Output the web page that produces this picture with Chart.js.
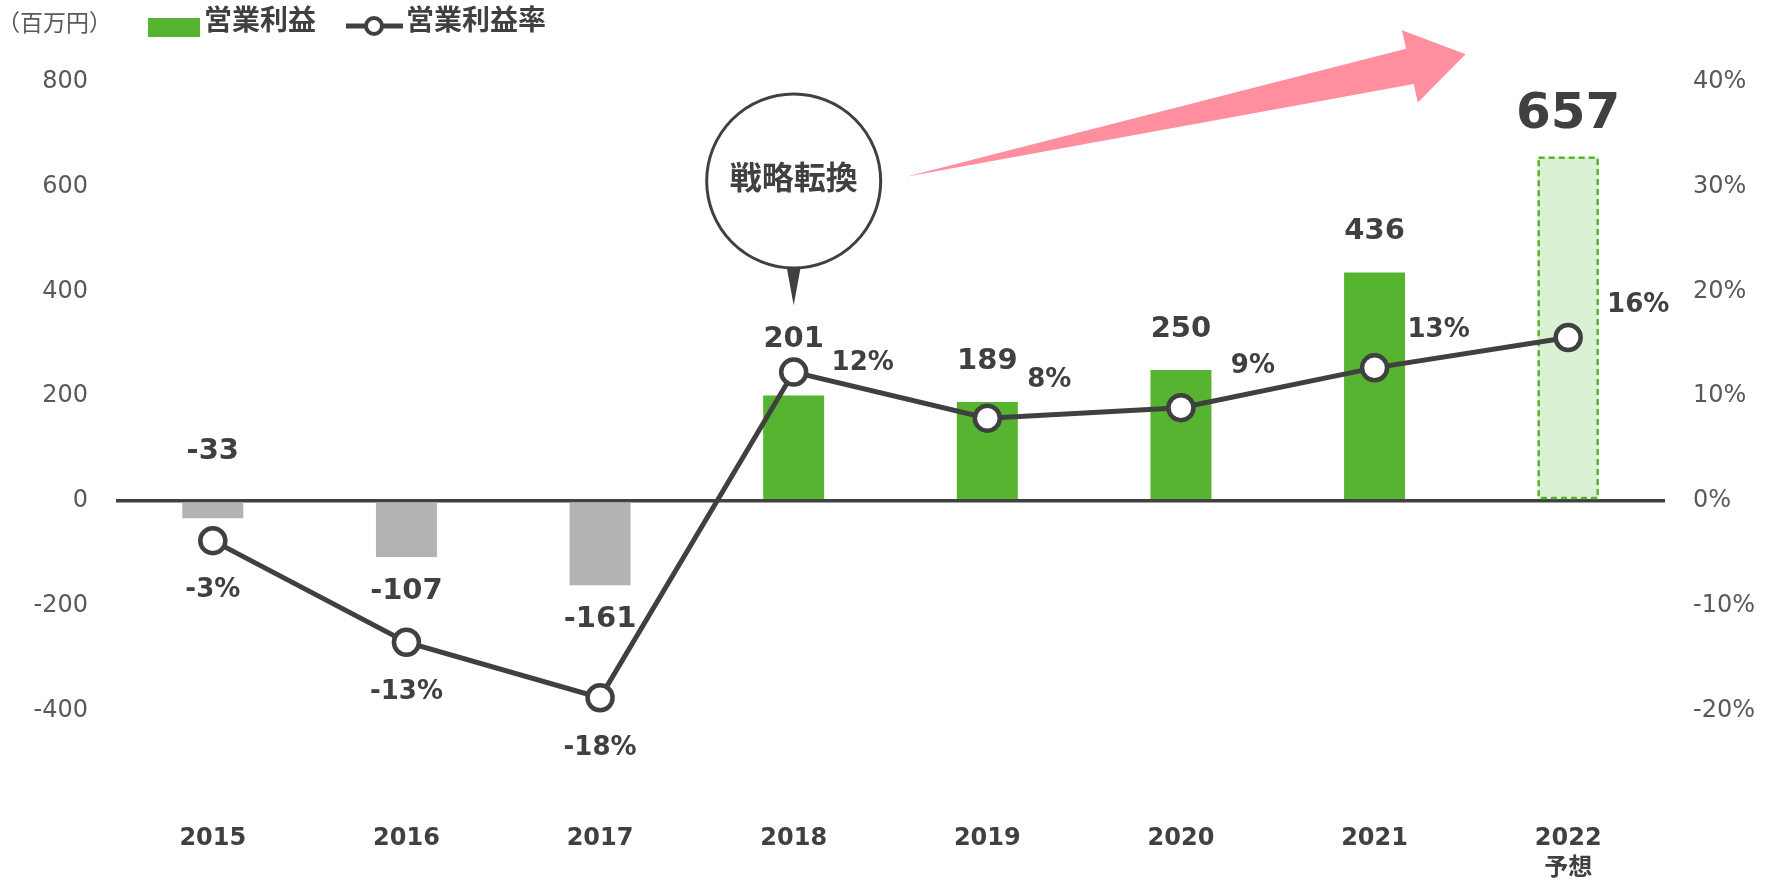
<!DOCTYPE html>
<html lang="ja">
<head>
<meta charset="utf-8">
<title>営業利益・営業利益率</title>
<script src="https://cdn.jsdelivr.net/npm/chart.js@4.4.1/dist/chart.umd.min.js"></script>
<style>
  html, body { margin: 0; padding: 0; background: #fff; }
</style>
</head>
<body>
<canvas id="chart" width="1768" height="883"></canvas>
<script>
// data
const years = ['2015', '2016', '2017', '2018', '2019', '2020', '2021', ['2022', '予想']];
const profit = [-33, -107, -161, 201, 189, 250, 436, 657];          // 百万円
const margin = [-3.8, -13.5, -18.8, 12.3, 7.9, 8.9, 12.7, 15.6];     // %
const marginText = ['-3%', '-13%', '-18%', '12%', '8%', '9%', '13%', '16%'];
const leftTicks = [-400, -200, 0, 200, 400, 600, 800];
const rightTicks = [-20, -10, 0, 10, 20, 30, 40];
const forecastIndex = 7;

const FONT = '"DejaVu Sans", "Noto Sans CJK JP", sans-serif';
const DARK = '#404040';
const TICK = '#595959';
const GREEN = '#56B431';
const GREY = '#B3B3B3';
const LIGHT_GREEN = '#DAF2D3';
const PINK = '#FF8E9E';

Chart.defaults.font.family = FONT;

// label offsets (px) from bar end / point
const valueOffset = [-67, 35, 34, -56, -40, -40, -41, -42];
const marginOffset = [[0, 50], [0, 50], [0, 51], [69, -9], [62, -38], [72, -41], [64, -38], [70, -32]];

// annotation anchors, in category index / left-axis value
const callout = { index: 3, value: 611, radius: 87, tipValue: 373, text: '戦略転換' };
const trendArrow = { from: [3.58, 619], to: [6.47, 853] };

const decorations = {
  id: 'decorations',
  afterDatasetDraw(chart, args) {
    if (args.index !== 0) return;
    // dashed outline of the forecast bar
    const bar = chart.getDatasetMeta(0).data[forecastIndex];
    const ctx = chart.ctx;
    ctx.save();
    ctx.strokeStyle = GREEN;
    ctx.lineWidth = 2.5;
    ctx.setLineDash([6, 4]);
    ctx.strokeRect(bar.x - bar.width / 2 + 1, bar.y + 1, bar.width - 2, bar.base - bar.y - 2);
    ctx.restore();
  },
  afterDraw(chart) {
    const ctx = chart.ctx;
    const xs = chart.scales.x;
    const ys = chart.scales.y;
    ctx.save();

    // trend arrow
    const tx = xs.getPixelForValue(trendArrow.from[0]);
    const ty = ys.getPixelForValue(trendArrow.from[1]);
    const hx = xs.getPixelForValue(trendArrow.to[0]);
    const hy = ys.getPixelForValue(trendArrow.to[1]);
    const len = Math.hypot(hx - tx, hy - ty);
    const ux = (hx - tx) / len, uy = (hy - ty) / len;
    const nx = -uy, ny = ux;
    const headLen = 57, shaft = 18, head = 37;
    const bx = hx - ux * headLen, by = hy - uy * headLen;
    ctx.fillStyle = PINK;
    ctx.beginPath();
    ctx.moveTo(tx, ty);
    ctx.lineTo(bx - nx * shaft, by - ny * shaft);
    ctx.lineTo(bx - nx * head, by - ny * head);
    ctx.lineTo(hx, hy);
    ctx.lineTo(bx + nx * head, by + ny * head);
    ctx.lineTo(bx + nx * shaft, by + ny * shaft);
    ctx.closePath();
    ctx.fill();

    // callout bubble
    const cx = xs.getPixelForValue(callout.index);
    const cy = ys.getPixelForValue(callout.value);
    const tipY = ys.getPixelForValue(callout.tipValue);
    ctx.beginPath();
    ctx.arc(cx, cy, callout.radius, 0, Math.PI * 2);
    ctx.fillStyle = '#fff';
    ctx.fill();
    ctx.lineWidth = 3;
    ctx.strokeStyle = DARK;
    ctx.stroke();
    ctx.beginPath();
    ctx.moveTo(cx - 7, cy + callout.radius - 1);
    ctx.lineTo(cx + 7, cy + callout.radius - 1);
    ctx.lineTo(cx, tipY);
    ctx.closePath();
    ctx.fillStyle = DARK;
    ctx.fill();
    ctx.font = 'bold 32px ' + FONT;
    ctx.textAlign = 'center';
    ctx.textBaseline = 'middle';
    ctx.fillText(callout.text, cx, cy);

    // value labels
    const bars = chart.getDatasetMeta(0).data;
    bars.forEach((bar, i) => {
      ctx.font = (i === forecastIndex ? 'bold 50px ' : 'bold 29px ') + FONT;
      ctx.fillText(String(profit[i]), bar.x, bar.y + valueOffset[i]);
    });

    // margin labels
    const pts = chart.getDatasetMeta(1).data;
    ctx.font = 'bold 26px ' + FONT;
    pts.forEach((p, i) => {
      ctx.fillText(marginText[i], p.x + marginOffset[i][0], p.y + marginOffset[i][1]);
    });

    // unit and legend
    ctx.textAlign = 'left';
    ctx.fillStyle = TICK;
    ctx.font = '23px ' + FONT;
    ctx.fillText('（百万円）', -3, 25);

    ctx.fillStyle = GREEN;
    ctx.fillRect(148, 18, 52, 19);
    ctx.fillStyle = DARK;
    ctx.font = 'bold 28px ' + FONT;
    ctx.fillText(chart.data.datasets[0].label, 204, 23);

    ctx.strokeStyle = DARK;
    ctx.lineWidth = 5;
    ctx.beginPath();
    ctx.moveTo(346, 26);
    ctx.lineTo(403, 26);
    ctx.stroke();
    ctx.beginPath();
    ctx.arc(374, 26, 8, 0, Math.PI * 2);
    ctx.fillStyle = '#fff';
    ctx.fill();
    ctx.lineWidth = 4;
    ctx.stroke();
    ctx.fillStyle = DARK;
    ctx.fillText(chart.data.datasets[1].label, 406, 23);

    ctx.restore();
  }
};

new Chart(document.getElementById('chart'), {
  type: 'bar',
  data: {
    labels: years,
    datasets: [
      {
        type: 'bar',
        label: '営業利益',
        data: profit,
        yAxisID: 'y',
        backgroundColor: profit.map((v, i) => (i === forecastIndex ? LIGHT_GREEN : v < 0 ? GREY : GREEN)),
        barPercentage: 0.315,
        categoryPercentage: 1,
        order: 2,
      },
      {
        type: 'line',
        label: '営業利益率',
        data: margin,
        yAxisID: 'y1',
        borderColor: DARK,
        borderWidth: 5,
        tension: 0,
        pointRadius: 12.5,
        pointBorderWidth: 4.5,
        pointBackgroundColor: '#fff',
        pointBorderColor: DARK,
        order: 1,
      },
    ],
  },
  options: {
    responsive: false,
    animation: false,
    layout: { padding: { top: 82, left: 0, right: 0, bottom: 0 } },
    plugins: {
      legend: { display: false },
      tooltip: { enabled: false },
    },
    scales: {
      x: {
        grid: { display: false },
        border: { display: false },
        ticks: {
          color: DARK,
          padding: 1,
          maxRotation: 0,
          autoSkip: false,
          font: { size: 24, weight: 'bold', lineHeight: 1.25 },
        },
        afterFit(scale) { scale.height = 68; },
      },
      y: {
        position: 'left',
        min: -600,
        max: 800,
        afterBuildTicks(scale) { scale.ticks = [-600].concat(leftTicks).map((v) => ({ value: v })); },
        ticks: {
          color: TICK,
          padding: 28,
          font: { size: 24 },
          callback: (v) => (leftTicks.includes(v) ? String(v) : ''),
        },
        grid: {
          drawTicks: false,
          lineWidth: 3.5,
          color: (ctx) => (ctx.tick && ctx.tick.value === 0 ? DARK : 'rgba(0,0,0,0)'),
        },
        border: { display: false },
        afterFit(scale) { scale.width = 116; },
      },
      y1: {
        position: 'right',
        min: -30,
        max: 40,
        afterBuildTicks(scale) { scale.ticks = [-30].concat(rightTicks).map((v) => ({ value: v })); },
        ticks: {
          color: TICK,
          padding: 28,
          font: { size: 24 },
          callback: (v) => (rightTicks.includes(v) ? v + '%' : ''),
        },
        grid: { display: false, drawTicks: false },
        border: { display: false },
        afterFit(scale) { scale.width = 103; },
      },
    },
  },
  plugins: [decorations],
});
</script>
</body>
</html>
